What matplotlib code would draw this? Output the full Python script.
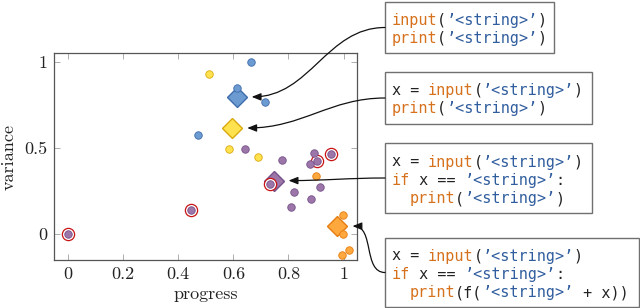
import matplotlib
matplotlib.use("Agg")
import matplotlib.pyplot as plt
from matplotlib.patches import FancyArrowPatch, Rectangle
from matplotlib.path import Path

plt.rcParams['font.family'] = 'cmr10'
plt.rcParams['axes.formatter.use_mathtext'] = True

# data (progress, variance) per program group
blue_x = [0.664, 0.612, 0.715, 0.470]
blue_y = [0.998, 0.849, 0.766, 0.574]
yellow_x = [0.510, 0.585, 0.688]
yellow_y = [0.928, 0.492, 0.446]
purple_x = [0.643, 0.778, 0.891, 0.877, 0.903, 0.954, 0.734, 0.821, 0.913, 0.882, 0.808, 0.445, 0.0]
purple_y = [0.494, 0.428, 0.473, 0.407, 0.424, 0.467, 0.289, 0.244, 0.273, 0.202, 0.159, 0.138, 0.0]
orange_x = [0.901, 0.998, 0.999, 1.020, 0.996]
orange_y = [0.337, 0.107, 0.0, -0.093, -0.122]

# group means (diamonds)
mean_x = [0.612, 0.596, 0.746, 0.978]
mean_y = [0.797, 0.616, 0.310, 0.045]

# points marked with a red ring
ring_x = [0.0, 0.445, 0.734, 0.903, 0.954]
ring_y = [0.0, 0.138, 0.289, 0.424, 0.467]

fills = ['#6b9bd1', '#ffe24d', '#9c76a9', '#ffa83e']
edges = ['#3e6cab', '#d9aa10', '#76518a', '#e57d12']

KW = '#d6711d'
ST = '#2f5d9e'
TX = '#222222'
Q = '\u2019'
s = Q + '<string>' + Q
code_boxes = [
    [[('input', KW), ('(', TX), (s, ST), (')', TX)],
     [('print', KW), ('(', TX), (s, ST), (')', TX)]],
    [[('x = ', TX), ('input', KW), ('(', TX), (s, ST), (')', TX)],
     [('print', KW), ('(', TX), (s, ST), (')', TX)]],
    [[('x = ', TX), ('input', KW), ('(', TX), (s, ST), (')', TX)],
     [('if', KW), (' x == ', TX), (s, ST), (':', TX)],
     [('  ', TX), ('print', KW), ('(', TX), (s, ST), (')', TX)]],
    [[('x = ', TX), ('input', KW), ('(', TX), (s, ST), (')', TX)],
     [('if', KW), (' x == ', TX), (s, ST), (':', TX)],
     [('  ', TX), ('print', KW), ('(f(', TX), (s, ST), (' + x))', TX)]],
]

W, H = 640, 308
fig = plt.figure(figsize=(W / 100, H / 100), dpi=100)
ax = fig.add_axes([54.3 / W, 1 - 260 / H, 303 / W, 207.3 / H])
ax.set_xlim(-0.05, 1.05)
ax.set_ylim(-0.152, 1.054)

for xs, ys, fc, ec in zip([blue_x, yellow_x, purple_x, orange_x],
                          [blue_y, yellow_y, purple_y, orange_y], fills, edges):
    ax.plot(xs, ys, 'o', ms=5.4, mfc=fc, mec=ec, mew=0.6, zorder=4, clip_on=False)

for i in range(4):
    ax.plot(mean_x[i], mean_y[i], 'D', ms=10.5, mfc=fills[i], mec=edges[i], mew=1.0, zorder=2)

ax.plot(ring_x, ring_y, 'o', ms=8.8, mfc='white', mec='#c81414', mew=0.9, zorder=3, clip_on=False)

ax.set_xticks([0, 0.2, 0.4, 0.6, 0.8, 1])
ax.set_xticklabels(['0', '0.2', '0.4', '0.6', '0.8', '1'])
ax.set_yticks([0, 0.5, 1])
ax.set_yticklabels(['0', '0.5', '1'])
ax.tick_params(direction='in', top=True, right=True, length=4, width=0.6,
               color='#a0a0a0', labelsize=13, pad=5, labelcolor='#222222')
for sp in ax.spines.values():
    sp.set_color('#555555')
    sp.set_linewidth(0.9)

fig.text(205.7 / W, 1 - 299 / H, 'progress', ha='center', va='baseline', fontsize=13, color='#222222')
fig.text(9 / W, 1 - 157 / H, 'variance', ha='center', va='center', rotation=90, fontsize=13, color='#222222')

# code boxes: left, top, right, bottom in pixels, and first baseline
box_rects = [(385, 2, 554, 53), (385, 72, 592, 124), (385, 143, 592, 213), (385, 238, 639, 307)]
first_base = [24.5, 94.5, 166.5, 260.5]
line_gap = 18.4
char_w = 9.1
for (l, t, r, b), lines, y0 in zip(box_rects, code_boxes, first_base):
    fig.patches.append(Rectangle((l / W, 1 - b / H), (r - l) / W, (b - t) / H,
                                 transform=fig.transFigure, fill=True, fc='white',
                                 ec='#707070', lw=1.0))
    for k, segs in enumerate(lines):
        col = 0
        for txt, c in segs:
            fig.text((l + 6.5 + col * char_w) / W, 1 - (y0 + k * line_gap) / H, txt,
                     family='DejaVu Sans Mono', fontsize=10.9, color=c, va='baseline', ha='left')
            col += len(txt)

# arrows from boxes to diamonds (S-curves)
fig.canvas.draw()
to_fig = fig.transFigure.inverted()
starts = [(385, 27.5), (385, 98), (385, 178), (385, 272.5)]
for i, (sx, sy) in enumerate(starts):
    cx, cy = to_fig.transform(ax.transData.transform((mean_x[i], mean_y[i])))
    ex, ey = cx + 15 / W, cy
    sx, sy = sx / W, 1 - sy / H
    dx = (ex - sx) * W
    dy = (ey - sy) * H
    d = 0.39 * (dx ** 2 + dy ** 2) ** 0.5
    verts = [(sx, sy), (sx - d / W, sy), (ex + d / W, ey), (ex, ey)]
    path = Path(verts, [Path.MOVETO, Path.CURVE4, Path.CURVE4, Path.CURVE4])
    arr = FancyArrowPatch(path=path, arrowstyle='-|>,head_length=0.55,head_width=0.22',
                          mutation_scale=10, lw=0.9, color='#111111',
                          transform=fig.transFigure)
    fig.patches.append(arr)

fig.savefig('out.png', dpi=100)
